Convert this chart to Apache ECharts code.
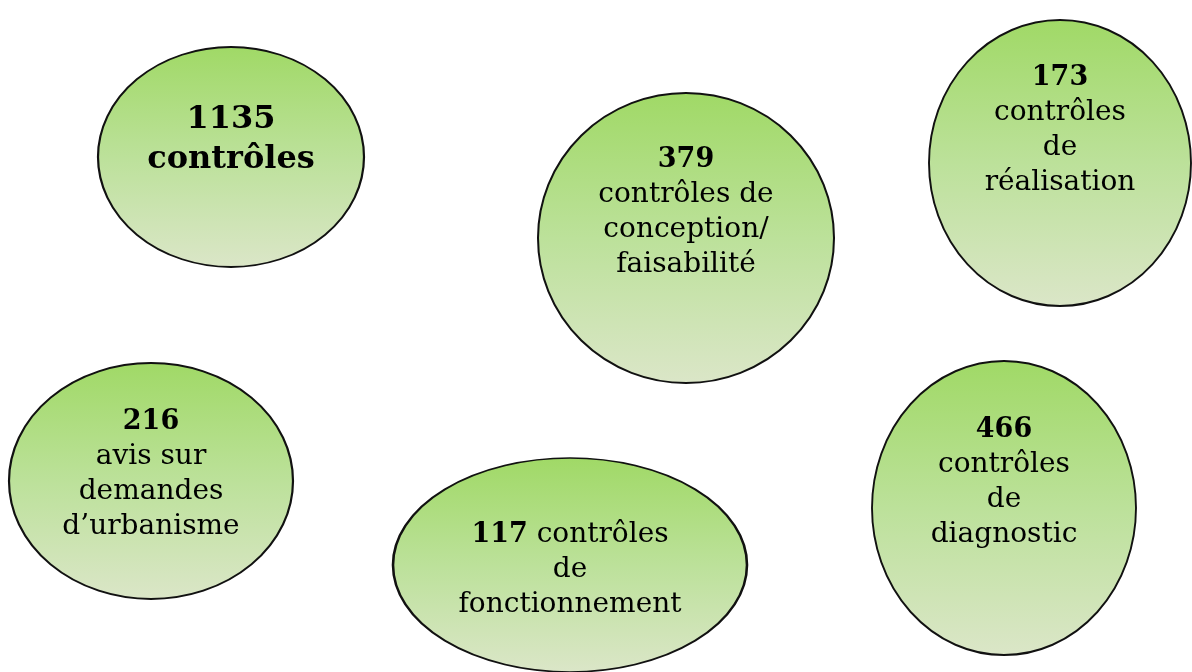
<!DOCTYPE html>
<html>
<head>
<meta charset="utf-8">
<script src="https://cdn.jsdelivr.net/npm/echarts@6/dist/echarts.min.js"></script>
<style>html,body{margin:0;padding:0;background:#fff}#c{width:1192px;height:672px}</style>
</head>
<body>
<div id="c"></div>
<script>
// Data
const counts = [1135, 379, 173, 216, 117, 466];
const descriptions = [
  'contrôles',
  'contrôles de\nconception/\nfaisabilité',
  'contrôles\nde\nréalisation',
  'avis sur\ndemandes\nd\u2019urbanisme',
  'contrôles\nde\nfonctionnement',
  'contrôles\nde\ndiagnostic'
];
// Layout (pixel positions / sizes of the bubbles, label offsets) — not data
const centersX = [231, 686, 1060, 151, 570, 1004];
const centersY = [157, 238, 163, 481, 565, 508];
const widths   = [266, 296, 262, 284, 354, 264];
const heights  = [220, 290, 286, 236, 214, 294];
const labelDy  = [-17, -26, -33, -7, 5, -26];
const inlineNumber = [false, false, false, false, true, false];
const bigStyle = [true, false, false, false, false, false];

const data = counts.map((c, i) => ({
  value: [centersX[i], centersY[i], c],
  symbolSize: [widths[i], heights[i]],
  label: { offset: [0, labelDy[i]] }
}));

const chart = echarts.init(document.getElementById('c'));
chart.setOption({
  animation: false,
  grid: { left: 0, right: 0, top: 0, bottom: 0 },
  xAxis: { type: 'value', min: 0, max: 1192, show: false },
  yAxis: { type: 'value', min: 0, max: 672, inverse: true, show: false },
  series: [{
    type: 'scatter',
    symbol: 'circle',
    clip: false,
    data: data,
    itemStyle: {
      color: new echarts.graphic.LinearGradient(0, 0, 0, 1, [
        { offset: 0, color: '#a0d966' },
        { offset: 0.5, color: '#bce19a' },
        { offset: 1, color: '#dbe6c8' }
      ]),
      borderColor: '#111',
      borderWidth: 2,
      opacity: 1
    },
    label: {
      show: true,
      position: 'inside',
      align: 'center',
      verticalAlign: 'middle',
      formatter: (p) => {
        const i = p.dataIndex;
        const n = counts[i];
        if (bigStyle[i]) {
          return '{bb|' + n + '}\n{bb|' + descriptions[i] + '}';
        }
        const lines = descriptions[i].split('\n');
        if (inlineNumber[i]) {
          return '{b|' + n + '}{n| ' + lines[0] + '}\n' + lines.slice(1).map(l => '{n|' + l + '}').join('\n');
        }
        return '{b|' + n + '}\n' + lines.map(l => '{n|' + l + '}').join('\n');
      },
      rich: {
        bb: { fontFamily: 'DejaVu Serif', fontWeight: 'bold', fontSize: 32, lineHeight: 40, color: '#000', align: 'center' },
        b: { fontFamily: 'DejaVu Serif', fontWeight: 'bold', fontSize: 27, lineHeight: 35, color: '#000', align: 'center' },
        n: { fontFamily: 'DejaVu Serif', fontSize: 28, lineHeight: 35, color: '#000', align: 'center' }
      }
    },
    emphasis: { disabled: true }
  }]
});
</script>
</body>
</html>
